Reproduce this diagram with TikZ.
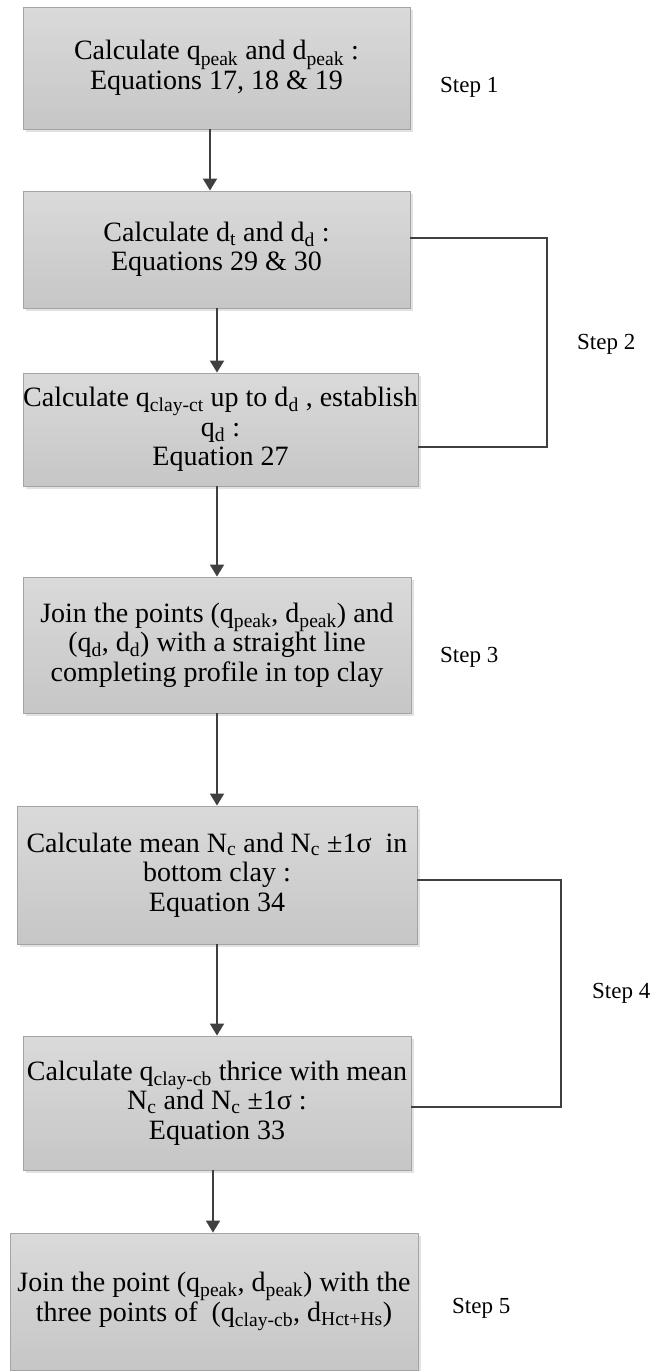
\documentclass[tikz,border=0pt]{standalone}
\usepackage{fontspec}
\setmainfont{Liberation Serif}
\usetikzlibrary{arrows.meta,shadows,calc}
\definecolor{linecol}{HTML}{404040}
\definecolor{boxtop}{HTML}{DADADA}
\definecolor{boxbot}{HTML}{C6C6C6}
\definecolor{boxedge}{HTML}{A4A4A4}
\tikzset{
  flowbox/.style={rectangle, draw=boxedge, line width=0.9pt, top color=boxtop, bottom color=boxbot,
    inner sep=0pt, align=center, font=\fontsize{28}{29.5}\selectfont,
    drop shadow={shadow xshift=2.5pt, shadow yshift=-2.5pt, fill=black!14, opacity=0.8}},
  steplabel/.style={anchor=west, inner sep=0pt, font=\fontsize{23}{27}\selectfont},
  flowarrow/.style={draw=linecol, line width=2pt, -{Triangle[width=14pt,length=12pt]}},
  flowline/.style={draw=linecol, line width=2pt}
}
\begin{document}
\begin{tikzpicture}[x=1pt,y=-1pt]
\useasboundingbox (0,0) rectangle (653,1371);
\node[flowbox, minimum width=387, minimum height=122] (b1) at (216.5,68)
  {Calculate q\textsubscript{peak} and d\textsubscript{peak} :\\ Equations 17, 18 \& 19};
\node[flowbox, minimum width=387, minimum height=117] (b2) at (216.5,249.5)
  {Calculate d\textsubscript{t} and d\textsubscript{d} :\\ Equations 29 \& 30};
\node[flowbox, minimum width=395, minimum height=113] (b3) at (220.5,429.5)
  {Calculate q\textsubscript{clay-ct} up to d\textsubscript{d} , establish\\ q\textsubscript{d} :\\ Equation 27};
\node[flowbox, minimum width=388, minimum height=136] (b4) at (217,645)
  {Join the points (q\textsubscript{peak}, d\textsubscript{peak}) and\\ (q\textsubscript{d}, d\textsubscript{d}) with a straight line\\ completing profile in top clay};
\node[flowbox, minimum width=400, minimum height=138] (b5) at (217,875)
  {Calculate mean N\textsubscript{c} and N\textsubscript{c} ±1σ~ in\\ bottom clay :\\ Equation 34};
\node[flowbox, minimum width=388, minimum height=134] (b6) at (217,1103)
  {Calculate q\textsubscript{clay-cb} thrice with mean\\ N\textsubscript{c} and N\textsubscript{c} ±1σ :\\ Equation 33};
\node[flowbox, minimum width=408, minimum height=137] (b7) at (214,1301.5)
  {Join the point (q\textsubscript{peak}, d\textsubscript{peak}) with the\\ three points of~ (q\textsubscript{clay-cb}, d\textsubscript{Hct+Hs})};

\node[steplabel] (s1) at (440,87) {Step 1};
\node[steplabel] (s2) at (577,344) {Step 2};
\node[steplabel] (s3) at (440,657) {Step 3};
\node[steplabel] (s4) at (592,993) {Step 4};
\node[steplabel] (s5) at (452,1308) {Step 5};

\coordinate (xa1) at (210,0);
\coordinate (xa) at (217,0);
\coordinate (xa6) at (213,0);
\draw[flowarrow] (b1.south -| xa1) -- (b2.north -| xa1);
\draw[flowarrow] (b2.south -| xa) -- (b3.north -| xa);
\draw[flowarrow] (b3.south -| xa) -- (b4.north -| xa);
\draw[flowarrow] (b4.south -| xa) -- (b5.north -| xa);
\draw[flowarrow] (b5.south -| xa) -- (b6.north -| xa);
\draw[flowarrow] (b6.south -| xa6) -- (b7.north -| xa6);

\coordinate (c1a) at (547,238);
\coordinate (c1b) at (547,447);
\draw[flowline, line join=miter] (b2.east |- c1a) -- (c1a) -- (c1b) -- (b3.east |- c1b);
\coordinate (c2a) at (561,880);
\coordinate (c2b) at (561,1107);
\draw[flowline, line join=miter] (b5.east |- c2a) -- (c2a) -- (c2b) -- (b6.east |- c2b);
\end{tikzpicture}
\end{document}
